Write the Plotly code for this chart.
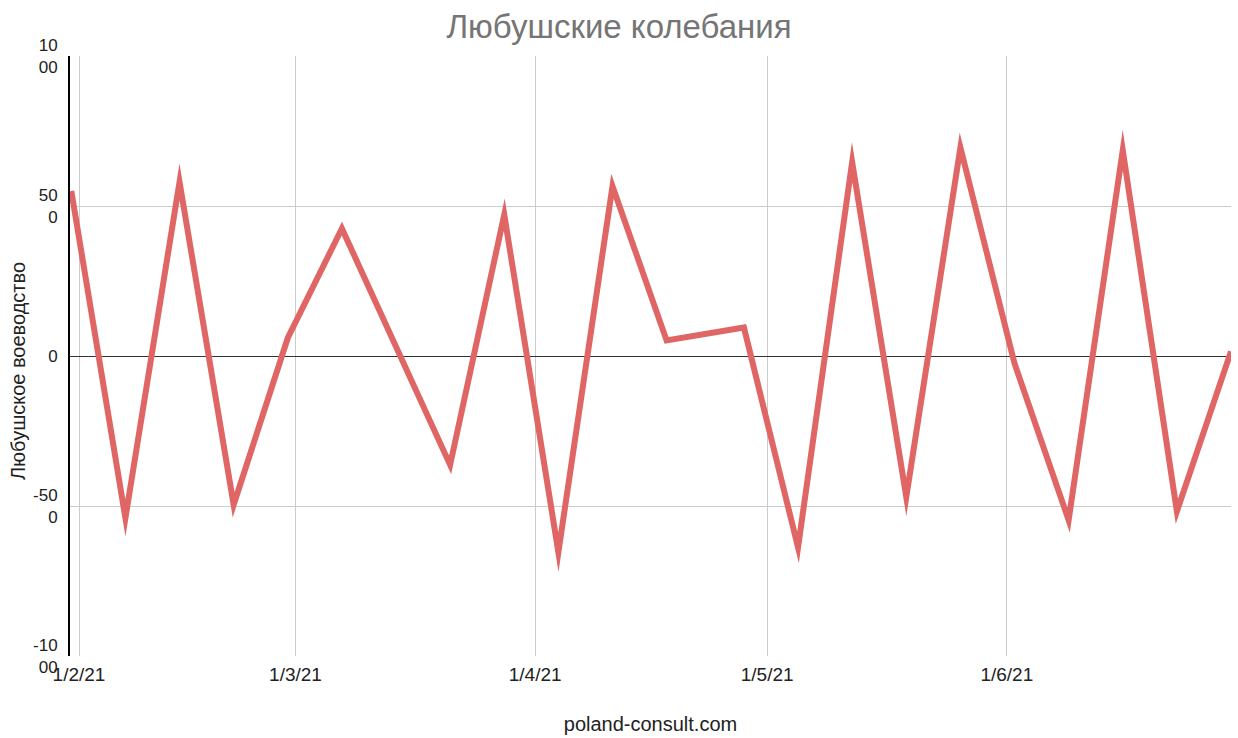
import plotly.graph_objects as go

# ---- data ----
dates = ["2021-01-31", "2021-02-07", "2021-02-14", "2021-02-21", "2021-02-28",
         "2021-03-07", "2021-03-21", "2021-03-28", "2021-04-04", "2021-04-11",
         "2021-04-18", "2021-04-28", "2021-05-05", "2021-05-12", "2021-05-19",
         "2021-05-26", "2021-06-02", "2021-06-09", "2021-06-16", "2021-06-23",
         "2021-06-30"]
values = [550, -540, 580, -496, 60,
          425, -363, 471, -654, 566,
          52, 95, -638, 646, -470,
          695, -25, -547, 686, -518,
          15]
x_tick_vals = ["2021-02-01", "2021-03-01", "2021-04-01", "2021-05-01", "2021-06-01"]
x_tick_text = ["1/2/21", "1/3/21", "1/4/21", "1/5/21", "1/6/21"]
y_tick_vals = [-1000, -500, 0, 500, 1000]
y_tick_text = ["-10<br>00", "-50<br>0", "0", "50<br>0", "10<br>00"]

title_text = "Любушские колебания"
y_title = "Любушское воеводство"
x_title = "poland-consult.com"

FONT = "Liberation Sans, Arial, sans-serif"

fig = go.Figure()
fig.add_trace(go.Scatter(
    x=dates, y=values, mode="lines",
    line=dict(color="#e06666", width=6),
    hoverinfo="x+y", showlegend=False,
))

fig.update_layout(
    width=1238, height=738,
    margin=dict(l=70, r=7, t=56, b=82, autoexpand=False),
    paper_bgcolor="white", plot_bgcolor="white",
    font=dict(family=FONT, color="#222222"),
    title=dict(text=title_text, x=0.5, xanchor="center", y=0.964, yanchor="middle",
               font=dict(size=33, color="#757575", family=FONT)),
)
fig.update_xaxes(
    type="date", automargin=False,
    range=["2021-01-30 20:00", "2021-06-30 00:00"],
    tickmode="array", tickvals=x_tick_vals, ticktext=x_tick_text,
    tickfont=dict(size=19, color="#222222"),
    showgrid=True, gridcolor="#cccccc", gridwidth=1,
    showline=False, zeroline=False, ticks="",
    ticklabelstandoff=5,
    title=dict(text=x_title, font=dict(size=20, color="#222222"), standoff=32),
)
fig.update_yaxes(
    automargin=False,
    range=[-1000, 1000],
    tickmode="array", tickvals=y_tick_vals, ticktext=y_tick_text,
    tickfont=dict(size=17, color="#222222"),
    showgrid=True, gridcolor="#cccccc", gridwidth=1,
    zeroline=True, zerolinecolor="#333333", zerolinewidth=1,
    showline=True, linecolor="#000000", linewidth=2,
    ticks="", ticklabelstandoff=7,
)
fig.add_annotation(
    text=y_title, textangle=-90, showarrow=False,
    xref="paper", yref="paper", x=0, y=0.475, xanchor="center", yanchor="middle",
    xshift=-52, font=dict(size=20, color="#222222", family=FONT),
)

post = ("document.body.style.margin='0';document.body.style.overflow='hidden';"
        "document.querySelectorAll('.scatterlayer path.js-line').forEach(function(p){"
        "p.style.strokeLinejoin='miter';p.style.strokeMiterlimit='60';});")
fig.write_html("out.html", post_script=post, config={"displayModeBar": False})
